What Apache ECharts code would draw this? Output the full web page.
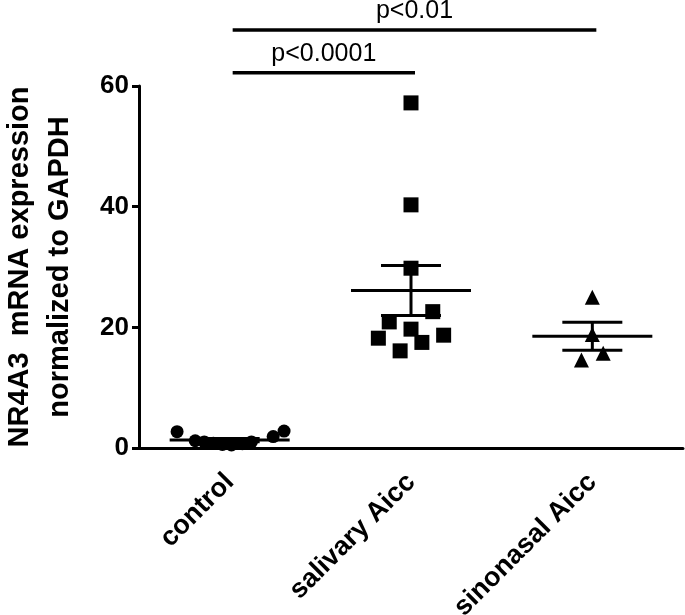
<!DOCTYPE html>
<html>
<head>
<meta charset="utf-8">
<script src="https://cdn.jsdelivr.net/npm/echarts@6/dist/echarts.min.js"></script>
<style>html,body{margin:0;padding:0;background:#fff;}#chart{width:685px;height:615px;}</style>
</head>
<body>
<div id="chart"></div>
<script>
const categories = ['control', 'salivary Aicc', 'sinonasal Aicc'];
const yTicks = [0, 20, 40, 60];
const controlValues = [2.7, 1.2, 1.0, 0.8, 0.6, 0.5, 0.7, 1.0, 1.9, 2.8];
const controlOffsets = [-0.29, -0.19, -0.14, -0.09, -0.04, 0.01, 0.07, 0.12, 0.24, 0.30];
const salivaryValues = [57.2, 40.3, 29.8, 22.6, 20.9, 19.7, 18.7, 18.2, 17.5, 16.1];
const salivaryOffsets = [0, 0, 0, 0.12, -0.12, 0, 0.18, -0.18, 0.06, -0.06];
const sinonasalValues = [25.0, 18.8, 15.7, 14.6];
const sinonasalOffsets = [0, 0, 0.06, -0.06];
const bracketFrom = [0, 0];
const bracketTo = [1, 2];
const bracketY = [62.2, 69.3];
const bracketLabels = ['p<0.0001', 'p<0.01'];

const FONT = '"Liberation Sans", Arial, sans-serif';

function pts(vals, offs, idx) { return vals.map((v, i) => [idx + offs[i], v]); }
function meanSem(vals) {
  const n = vals.length;
  const m = vals.reduce((a, b) => a + b, 0) / n;
  const sd = Math.sqrt(vals.reduce((a, b) => a + (b - m) * (b - m), 0) / (n - 1));
  return [m, sd / Math.sqrt(n)];
}
const groups = [controlValues, salivaryValues, sinonasalValues];
const statData = groups.map((g, i) => { const s = meanSem(g); return [i, s[0], s[1]]; });
const bracketData = bracketFrom.map((f, i) => [f, bracketTo[i], bracketY[i], i]);

const chart = echarts.init(document.getElementById('chart'));
const lineStyle = { stroke: '#000', lineWidth: 3 };
const pointStyle = { color: '#000', opacity: 1 };
chart.setOption({
  animation: false,
  backgroundColor: '#fff',
  grid: { left: 139, right: 2, top: 86, bottom: 167, outerBoundsMode: 'none' },
  xAxis: [{
    type: 'category', data: categories, boundaryGap: true,
    axisLine: { lineStyle: { color: '#000', width: 3 } },
    axisTick: { alignWithLabel: true, length: 9, lineStyle: { color: '#000', width: 3 } },
    axisLabel: { rotate: 45, fontSize: 27, fontWeight: 'bold', color: '#000', fontFamily: FONT, margin: 30 },
    splitLine: { show: false }
  }, {
    type: 'value', min: -0.5, max: 2.5, show: false
  }],
  yAxis: {
    type: 'value', min: yTicks[0], max: yTicks[yTicks.length - 1], interval: 20,
    name: 'NR4A3  mRNA expression\nnormalized to GAPDH',
    nameLocation: 'middle', nameRotate: 90, nameGap: 59,
    nameTextStyle: { fontSize: 29, fontWeight: 'bold', color: '#000', fontFamily: FONT, lineHeight: 40 },
    axisLine: { show: true, onZero: false, lineStyle: { color: '#000', width: 3 } },
    axisTick: { show: true, length: 7, lineStyle: { color: '#000', width: 3 } },
    axisLabel: { fontSize: 26, fontWeight: 'bold', color: '#000', fontFamily: FONT, margin: 10 },
    splitLine: { show: false }
  },
  series: [
    { type: 'scatter', xAxisIndex: 1, symbol: 'circle', symbolSize: 13, itemStyle: pointStyle, data: pts(controlValues, controlOffsets, 0) },
    { type: 'scatter', xAxisIndex: 1, symbol: 'rect', symbolSize: 15, itemStyle: pointStyle, data: pts(salivaryValues, salivaryOffsets, 1) },
    { type: 'scatter', xAxisIndex: 1, symbol: 'triangle', symbolSize: 15, itemStyle: pointStyle, data: pts(sinonasalValues, sinonasalOffsets, 2) },
    {
      type: 'custom', xAxisIndex: 0, data: statData, z: 5,
      renderItem: function (params, api) {
        const c = api.coord([api.value(0), api.value(1)]);
        const t = api.coord([api.value(0), api.value(1) + api.value(2)]);
        const b = api.coord([api.value(0), api.value(1) - api.value(2)]);
        return { type: 'group', children: [
          { type: 'line', shape: { x1: c[0] - 60, y1: c[1], x2: c[0] + 60, y2: c[1] }, style: lineStyle },
          { type: 'line', shape: { x1: c[0], y1: t[1], x2: c[0], y2: b[1] }, style: lineStyle },
          { type: 'line', shape: { x1: c[0] - 30, y1: t[1], x2: c[0] + 30, y2: t[1] }, style: lineStyle },
          { type: 'line', shape: { x1: c[0] - 30, y1: b[1], x2: c[0] + 30, y2: b[1] }, style: lineStyle }
        ] };
      }
    },
    {
      type: 'custom', xAxisIndex: 0, data: bracketData, clip: false, z: 5,
      renderItem: function (params, api) {
        const a = api.coord([api.value(0), api.value(2)]);
        const b = api.coord([api.value(1), api.value(2)]);
        const x1 = a[0] + 3, x2 = b[0] + 4;
        return { type: 'group', children: [
          { type: 'line', shape: { x1: x1, y1: a[1], x2: x2, y2: b[1] }, style: { stroke: '#000', lineWidth: 3.5 } },
          { type: 'text', x: (x1 + x2) / 2, y: a[1] - 6, style: {
            text: bracketLabels[api.value(3)], fill: '#000', fontSize: 25, fontFamily: FONT,
            align: 'center', verticalAlign: 'bottom' } }
        ] };
      }
    }
  ]
});
</script>
</body>
</html>
